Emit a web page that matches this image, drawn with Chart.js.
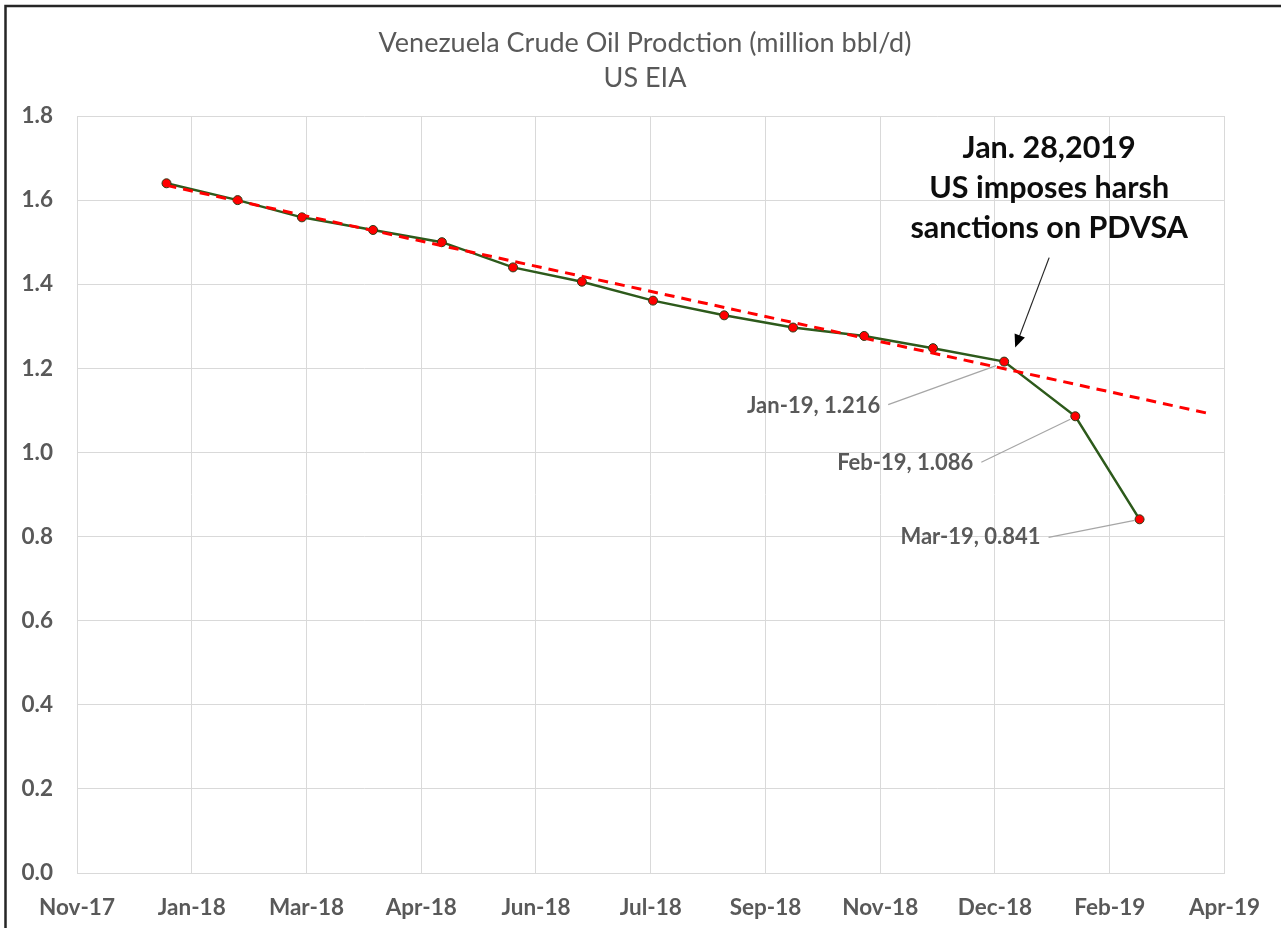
<!DOCTYPE html>
<html>
<head>
<meta charset="utf-8">
<title>Venezuela Crude Oil Prodction</title>
<script src="https://cdn.jsdelivr.net/npm/chart.js@4.4.1/dist/chart.umd.min.js"></script>
<style>
  html, body { margin: 0; padding: 0; background: #ffffff; }
  #wrap { width: 1281px; height: 928px; }
</style>
</head>
<body>
<div id="wrap"><canvas id="oilChart" width="1281" height="928"></canvas></div>
<script>
// monthly production, million bbl/d (US EIA)
const MONTHS = ["2018-01", "2018-02", "2018-03", "2018-04", "2018-05", "2018-06", "2018-07", "2018-08",
                "2018-09", "2018-10", "2018-11", "2018-12", "2019-01", "2019-02", "2019-03"];
const PRODUCTION = [1.640, 1.600, 1.559, 1.529, 1.500, 1.440, 1.406, 1.361, 1.326, 1.297, 1.277, 1.248, 1.216, 1.086, 0.841];

// dashed trend line, start and end
const TREND_DATES = ["2018-01-01", "2019-03-30"];
const TREND_VALUES = [1.635, 1.094];

// Excel-style date axis: starts 2017-11-23, a tick every 50 days
const X_AXIS_START = "2017-11-23";
const X_STEP_DAYS = 50;
const X_TICK_LABELS = ["Nov-17", "Jan-18", "Mar-18", "Apr-18", "Jun-18", "Jul-18", "Sep-18", "Nov-18", "Dec-18", "Feb-19", "Apr-19"];
const Y_TICKS = [0, 0.2, 0.4, 0.6, 0.8, 1.0, 1.2, 1.4, 1.6, 1.8];

const TITLE_LINES = ["Venezuela Crude Oil Prodction (million bbl/d)", "US EIA"];
const NOTE_LINES = ["Jan. 28,2019", "US imposes harsh", "sanctions on PDVSA"];
const LABELLED = ["2019-01", "2019-02", "2019-03"];
const LABEL_NAMES = ["Jan-19", "Feb-19", "Mar-19"];

const toDay = s => {
  const [y, m, d] = s.split("-").map(Number);
  return Date.UTC(y, m - 1, d || 1) / 86400000;
};

const xMin = toDay(X_AXIS_START);
const xMax = xMin + X_STEP_DAYS * (X_TICK_LABELS.length - 1);

const prodPoints = MONTHS.map((m, i) => ({ x: toDay(m), y: PRODUCTION[i] }));
const trendPoints = TREND_DATES.map((d, i) => ({ x: toDay(d), y: TREND_VALUES[i] }));

const GREY = "#595959";
const FONT = "Lato, 'Open Sans', sans-serif";

// where each value label sits, relative to its point
const LABEL_OFFSETS = [
  { tx: -124, ty: 44, lx0: -116, ly0: 43, lx1: -8, ly1: 4 },
  { tx: -102, ty: 47, lx0: -94, ly0: 46, lx1: -5, ly1: 3 },
  { tx: -99, ty: 18, lx0: -91, ly0: 18, lx1: -5, ly1: 1 }
];

const decorations = {
  id: "decorations",
  afterDraw(chart) {
    const { ctx, scales: { x, y } } = chart;
    ctx.save();

    // frame on top and left edges
    ctx.strokeStyle = "#262626";
    ctx.lineWidth = 2.5;
    ctx.beginPath();
    ctx.moveTo(5.5, 928);
    ctx.lineTo(5.5, 6);
    ctx.lineTo(1281, 6);
    ctx.stroke();

    // title
    ctx.fillStyle = GREY;
    ctx.textAlign = "center";
    ctx.textBaseline = "middle";
    ctx.font = "27px " + FONT;
    ctx.fillText(TITLE_LINES[0], 645, 43);
    ctx.fillText(TITLE_LINES[1], 645, 78);

    // value labels with leader lines
    ctx.font = "bold 22px " + FONT;
    LABELLED.forEach((m, i) => {
      const idx = MONTHS.indexOf(m);
      const px = x.getPixelForValue(toDay(m));
      const py = y.getPixelForValue(PRODUCTION[idx]);
      const o = LABEL_OFFSETS[i];
      ctx.strokeStyle = "#a6a6a6";
      ctx.lineWidth = 1.2;
      ctx.beginPath();
      ctx.moveTo(px + o.lx0, py + o.ly0);
      ctx.lineTo(px + o.lx1, py + o.ly1);
      ctx.stroke();
      ctx.fillStyle = GREY;
      ctx.textAlign = "right";
      ctx.fillText(LABEL_NAMES[i] + ", " + PRODUCTION[idx].toFixed(3), px + o.tx, py + o.ty);
    });

    // sanctions note + arrow pointing at Jan-19
    const jx = x.getPixelForValue(toDay("2019-01"));
    const jy = y.getPixelForValue(PRODUCTION[MONTHS.indexOf("2019-01")]);
    ctx.fillStyle = "#0d0d0d";
    ctx.textAlign = "center";
    ctx.font = "bold 30.5px " + FONT;
    NOTE_LINES.forEach((t, i) => ctx.fillText(t, jx + 45, jy - 213 + i * 40));

    const ax0 = jx + 45, ay0 = jy - 104, ax1 = jx + 11, ay1 = jy - 14;
    const ang = Math.atan2(ay1 - ay0, ax1 - ax0);
    ctx.strokeStyle = "#262626";
    ctx.lineWidth = 1.2;
    ctx.beginPath();
    ctx.moveTo(ax0, ay0);
    ctx.lineTo(ax1 - 8 * Math.cos(ang), ay1 - 8 * Math.sin(ang));
    ctx.stroke();
    ctx.fillStyle = "#000";
    ctx.beginPath();
    ctx.moveTo(ax1, ay1);
    ctx.lineTo(ax1 - 13 * Math.cos(ang) + 5.5 * Math.sin(ang), ay1 - 13 * Math.sin(ang) - 5.5 * Math.cos(ang));
    ctx.lineTo(ax1 - 13 * Math.cos(ang) - 5.5 * Math.sin(ang), ay1 - 13 * Math.sin(ang) + 5.5 * Math.cos(ang));
    ctx.closePath();
    ctx.fill();

    ctx.restore();
  }
};

new Chart(document.getElementById("oilChart"), {
  type: "line",
  data: {
    datasets: [
      {
        data: prodPoints,
        borderColor: "#2d5a1b",
        borderWidth: 2.5,
        pointBackgroundColor: "#ff0000",
        pointBorderColor: "#2a3d16",
        pointBorderWidth: 1,
        pointRadius: 4.5,
        tension: 0,
        order: 1
      },
      {
        data: trendPoints,
        borderColor: "#ff0000",
        borderWidth: 3,
        borderDash: [10, 7],
        pointRadius: 0,
        tension: 0,
        order: 0
      }
    ]
  },
  options: {
    responsive: false,
    animation: false,
    layout: { padding: { top: 116, right: 53, left: 0, bottom: 0 } },
    plugins: { legend: { display: false }, tooltip: { enabled: false }, title: { display: false } },
    scales: {
      x: {
        type: "linear",
        min: xMin,
        max: xMax,
        afterFit: s => { s.height = 55; },
        afterBuildTicks: s => { s.ticks = X_TICK_LABELS.map((_, i) => ({ value: xMin + i * X_STEP_DAYS })); },
        grid: { color: "#d9d9d9", lineWidth: 1, drawTicks: false },
        border: { color: "#d9d9d9" },
        ticks: {
          autoSkip: false,
          maxRotation: 0,
          padding: 21,
          color: GREY,
          font: { family: FONT, size: 22.5, weight: "bold" },
          callback: (v, i) => X_TICK_LABELS[i]
        }
      },
      y: {
        min: 0,
        max: 1.8,
        afterFit: s => { s.width = 77; },
        afterBuildTicks: s => { s.ticks = Y_TICKS.map(v => ({ value: v })); },
        grid: { color: "#d9d9d9", lineWidth: 1, drawTicks: false },
        border: { color: "#d9d9d9" },
        ticks: {
          padding: 24,
          color: GREY,
          font: { family: FONT, size: 22.5, weight: "bold" },
          callback: v => v.toFixed(1)
        }
      }
    }
  },
  plugins: [decorations]
});
</script>
</body>
</html>
